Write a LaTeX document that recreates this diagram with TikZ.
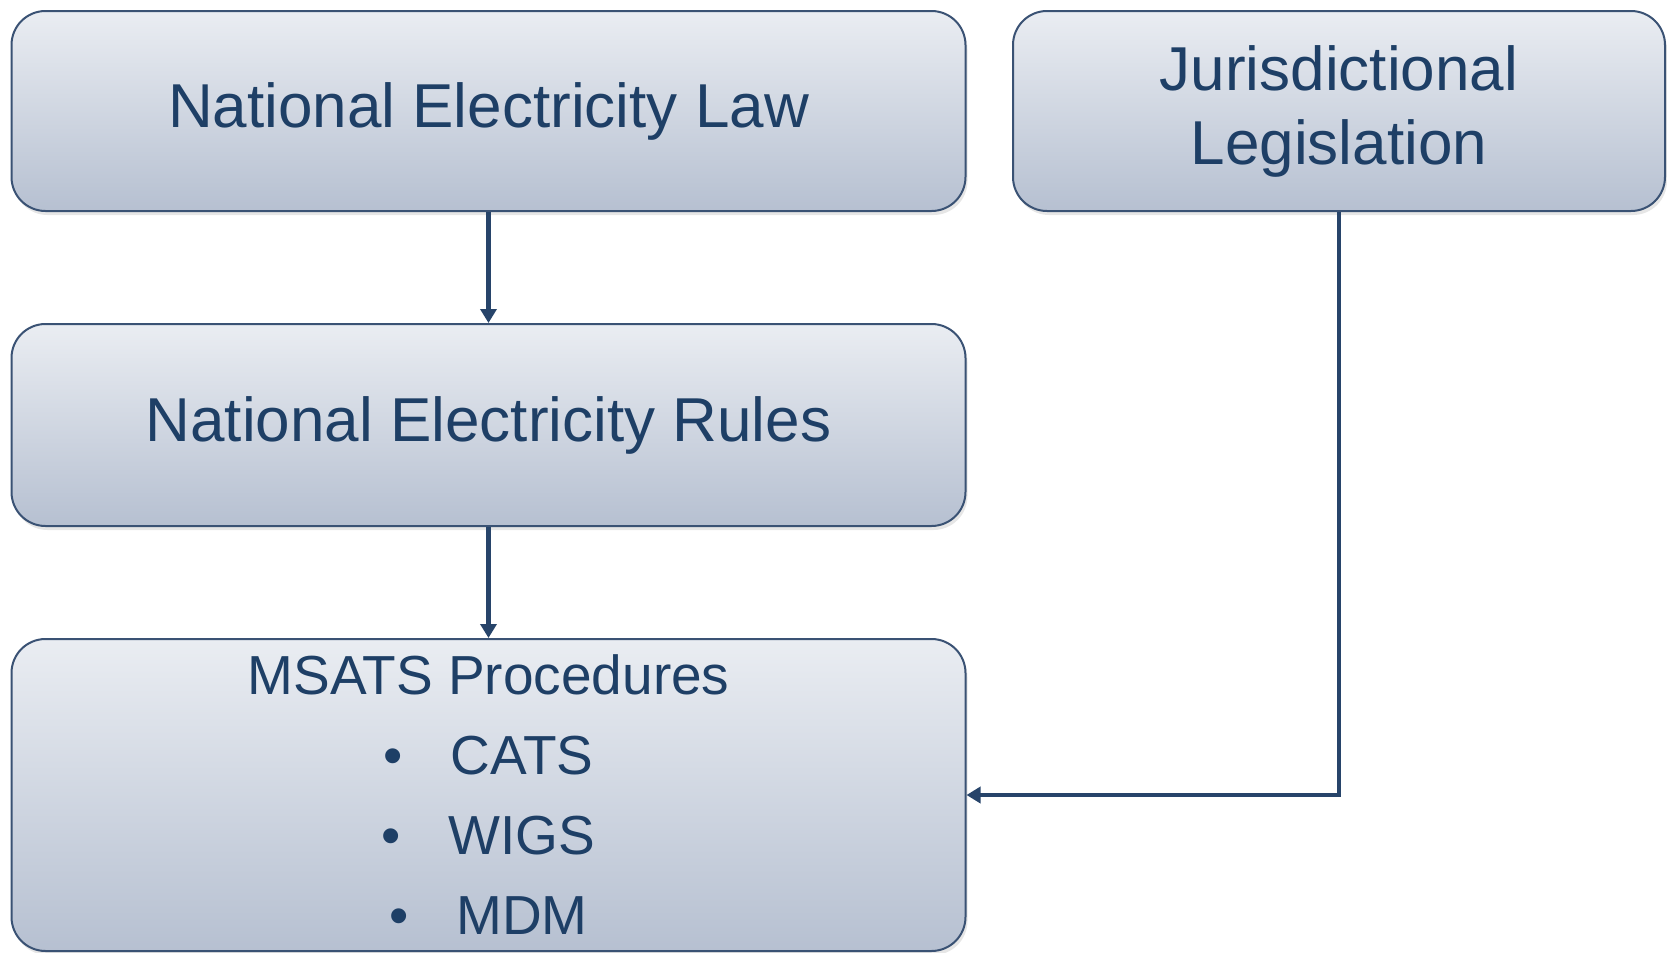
\documentclass[tikz,border=0pt]{standalone}
\usepackage{fontspec}
\setmainfont{Liberation Sans}
\usetikzlibrary{arrows.meta,shadows}
\definecolor{txtblue}{HTML}{1E3F66}
\definecolor{lineblue}{HTML}{27446A}
\definecolor{edgeblue}{HTML}{3A5274}
\definecolor{boxtop}{HTML}{EAEDF2}
\definecolor{boxbot}{HTML}{B6C0D1}
\tikzset{
  box/.style={draw=edgeblue, line width=1pt, rounded corners=17pt,
    top color=boxtop, bottom color=boxbot, text=txtblue, align=center,
    drop shadow={opacity=0.2, shadow xshift=1pt, shadow yshift=-2pt}},
  link/.style={draw=lineblue, line width=2.4pt, -{Triangle[length=7pt,width=8pt]}}
}
\begin{document}
\begin{tikzpicture}[x=0.5pt,y=-0.5pt]
      \useasboundingbox (0,0) rectangle (1667,953);

      \node[box, minimum width=477pt, minimum height=100pt,
            font=\fontsize{31}{36}\selectfont] (nel) at (488.5,111) {National Electricity Law};
      \node[box, minimum width=477pt, minimum height=101pt,
            font=\fontsize{31}{36}\selectfont] (ner) at (488.5,425) {National Electricity Rules};
      \node[box, minimum width=477pt, minimum height=156pt,
            font=\fontsize{27.5}{40}\selectfont] (msats) at (488.5,795)
            {MSATS Procedures\\ \textbullet\hspace{24pt}CATS\\ \textbullet\hspace{24pt}WIGS\\ \textbullet\hspace{24pt}MDM};
      \node[box, minimum width=326pt, minimum height=100pt,
            font=\fontsize{31}{37}\selectfont] (jl) at (1339,111) {Jurisdictional\\ Legislation};

      \draw[link] (nel) -- (ner);
      \draw[link] (ner) -- (msats);
      \draw[link] (jl.south) |- (msats.east);
    \end{tikzpicture}
\end{document}
